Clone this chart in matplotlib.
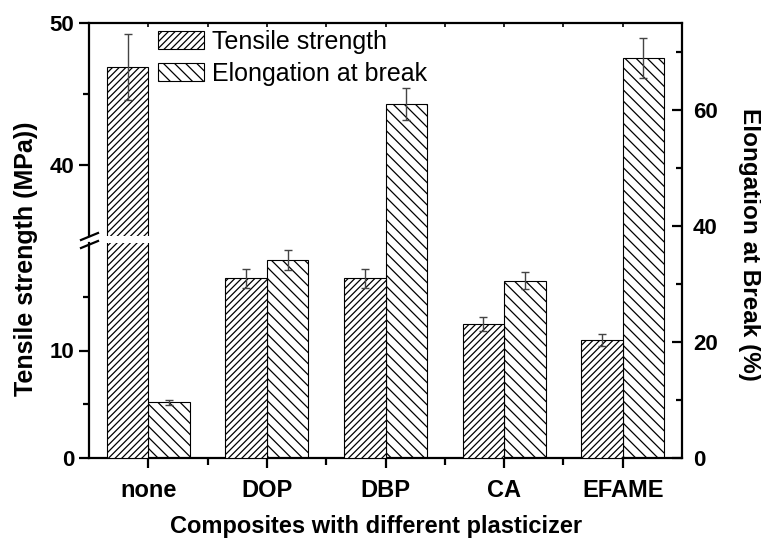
import numpy as np
import matplotlib.pyplot as plt
from matplotlib.lines import Line2D

plasticizers = ['none', 'DOP', 'DBP', 'CA', 'EFAME']
tensile = [46.9, 16.7, 16.7, 12.5, 11.0]          # MPa
tensile_err = [2.3, 0.85, 0.85, 0.65, 0.55]
elongation = [9.6, 34.1, 61.0, 30.6, 68.9]        # %
elongation_err = [0.45, 1.75, 2.8, 1.5, 3.45]

plt.rcParams['font.family'] = ['Liberation Sans', 'DejaVu Sans']
plt.rcParams['hatch.linewidth'] = 0.9
plt.rcParams['axes.linewidth'] = 1.6

W, H = 761, 544
fig = plt.figure(figsize=(W / 100, H / 100), dpi=100)

def px_rect(x0, y_top, x1, y_bot):
    # pixel box (y measured from the top) -> figure fraction rect
    return [x0 / W, 1 - y_bot / H, (x1 - x0) / W, (y_bot - y_top) / H]

# full frame carries the elongation bars and the right axis
ax = fig.add_axes(px_rect(89, 23, 682, 458))
# broken left axis: lower 0-20, upper 35-50
ax_lo = fig.add_axes(px_rect(89, 243, 682, 458), facecolor='none')
ax_hi = fig.add_axes(px_rect(89, 23, 682, 236), facecolor='none')

x = np.arange(1, len(plasticizers) + 1)
w = 0.35
err_style = dict(ecolor='#444444', elinewidth=1.0, capsize=3, capthick=1.0)

el_bars = ax.bar(x + w / 2, elongation, w, yerr=elongation_err, facecolor='white',
                 edgecolor='black', linewidth=0.8, hatch='\\\\\\', error_kw=err_style)
for a in (ax_lo, ax_hi):
    ts_bars = a.bar(x - w / 2, tensile, w, yerr=tensile_err, facecolor='white',
                    edgecolor='black', linewidth=0.8, hatch='/////', error_kw=err_style)

# right axis (elongation)
ax.set_xlim(0.5, 5.5)
ax.set_ylim(0, 75)
ax.yaxis.tick_right()
ax.set_yticks([0, 20, 40, 60])
ax.set_yticks([10, 30, 50, 70], minor=True)
ax.tick_params(axis='y', which='both', direction='in', left=False, right=True,
               labelsize=16, pad=8, width=1.6)
ax.tick_params(axis='y', which='major', length=7)
ax.tick_params(axis='y', which='minor', length=4)
ax.set_xticks(x, plasticizers)
ax.set_xticks(np.arange(1.5, 5.5, 1), minor=True)
ax.tick_params(axis='x', which='both', direction='out', top=False, labelsize=17, width=1.6)
ax.tick_params(axis='x', which='major', length=7, pad=8)
ax.tick_params(axis='x', which='minor', length=5)
ax.spines['left'].set_visible(False)
for t in ax.get_xticklabels() + ax.get_yticklabels():
    t.set_fontweight('bold')

# left axis segments
ax_lo.set_ylim(0, 20)
ax_lo.set_yticks([0, 10])
ax_lo.set_yticks([5, 15], minor=True)
ax_hi.set_ylim(35, 50)
ax_hi.set_yticks([40, 50])
ax_hi.set_yticks([45], minor=True)
for a in (ax_lo, ax_hi):
    a.set_xlim(0.5, 5.5)
    for s in ('top', 'right', 'bottom'):
        a.spines[s].set_visible(False)
    a.tick_params(axis='y', which='both', direction='out', labelsize=16, width=1.6)
    a.tick_params(axis='y', which='major', length=7)
    a.tick_params(axis='y', which='minor', length=4)
    for t in a.get_yticklabels():
        t.set_fontweight('bold')
ax_lo.tick_params(axis='x', which='both', bottom=False, labelbottom=False)
# small inward ticks along the top edge
ax_hi.set_xticks(x)
ax_hi.set_xticks(np.arange(1.5, 5.5, 1), minor=True)
ax_hi.tick_params(axis='x', which='both', bottom=False, labelbottom=False, top=True,
                  direction='in', length=3, width=1.2)

# break marks on the left spine
for y0 in (240, 248):
    fig.add_artist(Line2D([81 / W, 98 / W], [1 - y0 / H, 1 - (y0 - 7) / H],
                          color='black', linewidth=1.6))

fig.text(26 / W, 1 - 259 / H, 'Tensile strength (MPa))', rotation=90, ha='center',
         va='center', fontsize=18, fontweight='bold')
fig.text(750 / W, 1 - 244 / H, 'Elongation at Break (%)', rotation=270, ha='center',
         va='center', fontsize=17.5, fontweight='bold')
fig.text(376 / W, 1 - 527 / H, 'Composites with different plasticizer', ha='center',
         va='center', fontsize=17, fontweight='bold')

ax_hi.legend([ts_bars, el_bars], ['Tensile strength', 'Elongation at break'],
             loc='upper left', bbox_to_anchor=(158 / W, 1 - 30 / H),
             bbox_transform=fig.transFigure, frameon=False, fontsize=18,
             handlelength=1.85, handleheight=0.72, handletextpad=0.3,
             labelspacing=0.3, borderpad=0, borderaxespad=0)

fig.savefig('out.png', dpi=100)
